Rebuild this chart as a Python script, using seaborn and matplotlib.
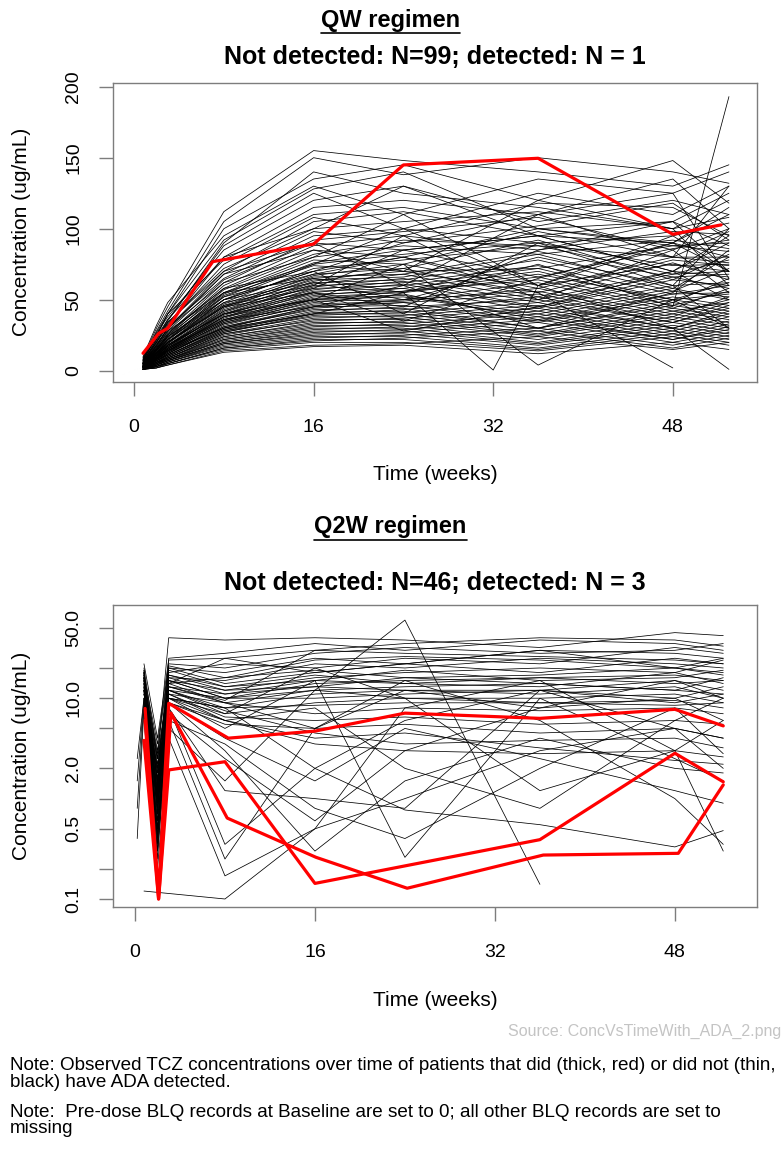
import numpy as np
import pandas as pd
import matplotlib
matplotlib.use("Agg")
import matplotlib.pyplot as plt
import seaborn as sns
from matplotlib.ticker import FixedLocator, FixedFormatter, NullLocator
from matplotlib.lines import Line2D

# ---------------- data: QW regimen (99 ADA-negative subjects, 1 ADA-positive) -------------
QW_WEEKS = [0.8, 2, 3, 8, 16, 24, 36, 48, 53]
qw_wk1 = [9, 8, 7, 10, 6, 8, 7, 5, 9, 6,
          4, 8, 5, 7, 3, 6, 4, 5, 6, 3,
          5, 4, 2, 6, 4, 3, 5, 2, 4, 3,
          5, 2, 4, 3, 2, 4, 3, 5, 2, 3,
          4, 2, 3, 4, 2, 3, 1, 3, 2, 4,
          2, 3, 1, 3, 2, 2, 3, 1, 2, 3,
          1, 2, 2, 1, 2, 1, 2, 1, 2, 1,
          1, 1, 2, 1, 1, 1, 1, 1, 1, 1,
          6, 5, 4, 3, 5, 4, 3, 2, 4, 3,
          2, 5, 3, 6, 4, 2, 7, 3, 5]
qw_wk2 = [30, 28, 25, 32, 22, 26, 24, 20, 27, 21,
          18, 23, 19, 20, 16, 18, 15, 17, 16, 14,
          15, 13, 12, 14, 13, 11, 12, 10, 12, 11,
          13, 9, 11, 10, 9, 12, 10, 11, 8, 10,
          9, 8, 9, 10, 8, 9, 7, 8, 7, 9,
          8, 8, 6, 7, 7, 6, 7, 5, 6, 7,
          5, 6, 5, 5, 6, 4, 5, 4, 5, 4,
          4, 3, 4, 3, 3, 3, 3, 2, 2, 2,
          20, 18, 14, 12, 16, 15, 10, 9, 13, 11,
          8, 17, 12, 22, 14, 8, 24, 10, 15]
qw_wk3 = [45, 42, 40, 48, 35, 38, 36, 32, 40, 33,
          30, 34, 29, 31, 26, 28, 25, 27, 24, 22,
          23, 21, 20, 22, 20, 19, 20, 18, 19, 17,
          20, 16, 18, 17, 15, 18, 16, 17, 14, 15,
          15, 14, 14, 16, 13, 14, 12, 13, 12, 14,
          12, 13, 11, 12, 11, 10, 11, 10, 10, 11,
          9, 9, 9, 8, 9, 8, 8, 7, 8, 7,
          7, 6, 7, 6, 6, 5, 5, 5, 4, 4,
          34, 30, 24, 22, 28, 25, 18, 16, 22, 20,
          15, 30, 20, 36, 24, 14, 40, 18, 26]
qw_wk8 = [112, 105, 100, 95, 90, 85, 88, 80, 78, 75,
          70, 72, 68, 65, 62, 64, 60, 58, 57, 55,
          54, 52, 50, 53, 48, 50, 47, 45, 46, 44,
          45, 42, 43, 41, 40, 42, 39, 40, 38, 37,
          38, 36, 35, 36, 34, 35, 33, 34, 32, 33,
          31, 30, 30, 31, 29, 28, 29, 27, 27, 28,
          26, 25, 26, 24, 24, 23, 22, 22, 21, 20,
          20, 19, 19, 18, 17, 16, 16, 15, 14, 13,
          70, 62, 50, 48, 55, 55, 40, 38, 50, 46,
          36, 68, 45, 80, 52, 30, 92, 40, 58]
qw_wk16 = [155, 150, 135, 130, 140, 120, 125, 115, 110, 108,
           105, 100, 98, 95, 92, 90, 88, 85, 82, 80,
           78, 76, 75, 74, 72, 70, 68, 67, 66, 65,
           64, 63, 62, 61, 60, 59, 58, 57, 56, 55,
           54, 53, 52, 51, 50, 50, 49, 48, 47, 46,
           45, 45, 44, 43, 42, 41, 40, 40, 39, 38,
           37, 36, 35, 34, 33, 32, 31, 30, 29, 28,
           27, 26, 25, 24, 23, 22, 21, 20, 18, 17,
           90, 80, 70, 60, 65, 75, 55, 50, 62, 58,
           45, 85, 55, 100, 68, 40, 128, 50, 70]
qw_wk24 = [148, 138, 145, 110, 125, 130, 100, 120, 115, 95,
           112, 105, 90, 100, 98, 85, 95, 80, 92, 88,
           75, 85, 82, 70, 78, 80, 72, 75, 68, 70,
           66, 72, 64, 68, 62, 65, 60, 63, 58, 61,
           56, 58, 55, 53, 56, 52, 50, 54, 49, 48,
           50, 46, 48, 44, 45, 42, 43, 40, 41, 38,
           39, 36, 37, 34, 35, 32, 33, 30, 31, 28,
           29, 26, 27, 24, 25, 22, 23, 20, 19, 18,
           60, 110, 40, 95, 55, 100, 45, 75, 50, 85,
           60, 70, 35, 130, 80, 55, 140, 28, 90]
qw_wk36 = [140, 150, 120, 135, 115, 105, 125, 110, 100, 118,
           95, 112, 102, 90, 108, 95, 85, 100, 88, 82,
           98, 66, 90, 72, 88, 60, 92, 58, 84, 55,
           82, 52, 78, 50, 74, 48, 72, 45, 70, 44,
           68, 42, 66, 40, 64, 38, 62, 36, 58, 35,
           56, 34, 54, 30, 50, 30, 52, 28, 48, 26,
           46, 25, 44, 24, 42, 22, 40, 20, 38, 19,
           36, 18, 34, 16, 30, 15, 28, 14, 24, 12,
           110, 60, 90, 50, 60, 60, 85, 4, 75, 95,
           30, 120, 65, 95, 55, 80, 100, 45, 110]
qw_wk48 = [130, 140, 148, 125, 100, 120, 110, 135, 105, 115,
           90, 100, 118, 95, 85, 105, 98, 88, 80, 92,
           80, 86, 74, 88, 68, 90, 64, 80, 66, 78,
           58, 76, 56, 70, 54, 68, 50, 66, 48, 64,
           50, 60, 46, 58, 44, 56, 42, 54, 40, 52,
           38, 50, 36, 48, 34, 46, 34, 44, 30, 42,
           30, 40, 28, 38, 26, 36, 24, 34, 22, 32,
           22, 30, 20, 28, 18, 26, 16, 24, 15, 20,
           80, 95, 60, 85, 75, 30, 105, 50, 45, 70,
           55, 100, 90, 70, 2, 60, 90, 70, 125]
qw_wk53 = [145, 132, 118, 140, 120, 110, 130, 100, 125, 95,
           115, 108, 92, 104, 100, 88, 96, 90, 98, 86,
           80, 92, 75, 84, 78, 70, 82, 76, 68, 74,
           80, 64, 72, 66, 60, 70, 62, 58, 65, 60,
           54, 62, 56, 50, 58, 52, 48, 55, 50, 46,
           52, 44, 48, 42, 46, 40, 44, 38, 42, 36,
           40, 34, 38, 32, 35, 30, 33, 28, 31, 26,
           29, 24, 27, 22, 25, 20, 23, 18, 20, 15,
           130, 70, 100, 55, 70, 1, 70, 30, 193, 50,
           85, 60, 110, 90, None, 30, 80, 95, 65]
# sparse extra visit
qw_extra_subject = [85]
qw_extra_week = [32]
qw_extra_conc = [0.5]
# ADA detected subject
qw_ada_week = [0.8, 2.2, 3.0, 7.0, 16.0, 24.0, 36.0, 48.0, 52.3]
qw_ada_conc = [12.3, 26.3, 29.9, 76.8, 89.2, 144.9, 149.6, 96.1, 102.7]

# ---------------- data: Q2W regimen (46 ADA-negative, 3 ADA-positive) -------------
Q2W_WEEKS = [0.8, 2, 3, 8, 16, 24, 36, 48, 52.3]
q2w_wk1 = [20, 18, 17, 16, 19, 15, 18, 14, 17, 16,
           12, 15, 13, 18, 11, 16, 14, 12, 17, 15,
           13, 10, 18, 14, 16, 12, 19, 11, 22, 16,
           8, 10, 9, 12, 7, 6, 0.12, 14, 9, 11,
           13, 10, 12, 8, 15, 16]
q2w_wk2 = [2.5, 1.5, 1.0, 3.0, 0.8, 2.0, 0.5, 1.2, 0.4, 2.2,
           0.6, 1.8, 0.3, 1.0, 2.5, 0.7, 1.5, 0.25, 3.5, 1.1,
           0.9, 0.5, 1.3, 2.8, 0.35, 1.6, 0.7, 2.0, 4.0, 1.4,
           0.4, 0.6, 0.5, 1.0, 0.3, 0.2, None, 1.0, 0.8, 2.0,
           1.2, 0.9, 1.8, 0.45, 2.5, 1.5]
q2w_wk3 = [40, 25, 22, 20, 18, 16, 20, 15, 14, 13,
           12, 19, 11, 17, 10, 15, 12, 10, 21, 14,
           11, 9, 16, 13, 12, 10, 17, 9, 24, 15,
           6, 8, 7, 10, 5, 4, None, 12, 8, 9,
           11, 9, 10, 6, 13, 14]
q2w_wk8 = [38, 28, 20, 18, 22, 15, 14, 12, 16, 11,
           10, 13, 9, 12, 8, 10, 7, 8, 16, 9,
           6.5, 5.5, 11, 9.5, 7.5, 6, 13, 6, 25, 10,
           0.25, 0.35, 2.5, 5, 1.5, 0.17, 0.10, 8, 1.2, 3,
           6, 4, 7, 3.5, 9, 25]
q2w_wk16 = [40, 35, 28, 25, 20, 22, 18, 16, 19, 15,
            14, 17, 12, 13, 11, 10, 9, 8.5, 24, 7,
            6, 5, 13, 30, 4.5, 3.5, 15, 4, 30, 12,
            5, 2, 0.6, 15, 12, 0.5, 0.5, 2, 1.0, 0.3,
            8, 1.5, 20, 0.8, 5, 18]
q2w_wk24 = [38, 30, 32, 22, 25, 20, 22, 18, 16, 19,
            15, 14, 13, 12, 12, 11, 10, 9, 26, 8,
            6.5, 5.5, 16, 28, 3.5, 3.0, 14, 4.5, 35, 10,
            12, 6, 3, 0.26, 60, 8, 1.0, 0.77, 0.8, 1.5,
            2, 5, 10, 0.4, 15, 22]
q2w_wk36 = [32, 38, 28, 30, 22, 25, 18, 20, 17, 15,
            16, 13, 14, 12, 11, 12, 10, 9, 24, 7.5,
            5.5, 4.5, 14, 26, 3.8, 2.8, 16, 3.2, 40, 9,
            8, 12, 8, 10, 0.14, 15, 3, 0.55, 12, 4,
            0.8, 2.5, 1.2, 2, 6, 30]
q2w_wk48 = [45, 35, 30, 28, 32, 22, 25, 18, 20, 16,
            14, 18, 12, 15, 13, 10, 11, 9.5, 20, 8,
            6, 5, 12, 24, 4.0, 3.0, 17, 2.4, 38, 8.5,
            10, 9, 15, 2.5, None, 3, 5, 0.33, 5, 2.0,
            6, 1.2, 3, 8, 1.0, 20]
q2w_wk52 = [42, 30, 35, 25, 28, 20, 22, 24, 18, 19,
            15, 14, 16, 12, 10, 13, 9, 8, 17, 7,
            5.5, 4, 11, 22, 3.2, 2.6, 15, 2.2, 33, 9,
            6, 11, 10, 1.5, None, 0.3, 4, 0.48, 2, 1.8,
            10, 0.9, 6, 2.8, 0.35, 25]
q2w_extra_subject = [31, 32, 39, 42]
q2w_extra_week = [0.2, 0.2, 0.2, 0.2]
q2w_extra_conc = [0.4, 1.5, 0.8, 2.5]
# ADA detected subjects
q2w_ada1_week = [0.9, 2.1, 3.0, 8.3, 16.0, 24.0, 36.0, 48.0, 52.3]
q2w_ada1_conc = [7.9, 0.11, 8.9, 4.0, 4.7, 7.1, 6.3, 7.75, 5.3]
q2w_ada2_week = [0.8, 2.1, 3.0, 8.0, 16.0, 36.0, 48.0, 52.3]
q2w_ada2_conc = [3.8, 0.10, 1.93, 2.33, 0.143, 0.39, 2.83, 1.47]
q2w_ada3_week = [0.9, 2.1, 3.2, 8.2, 16.1, 24.2, 36.3, 48.3, 52.3]
q2w_ada3_conc = [6.0, 0.10, 7.1, 0.64, 0.26, 0.128, 0.274, 0.285, 1.37]

QW_TITLE = "Not detected: N=99; detected: N = 1"
Q2W_TITLE = "Not detected: N=46; detected: N = 3"
NOTE1 = ("Note: Observed TCZ concentrations over time of patients that did (thick, red) or did not (thin,\n"
         "black) have ADA detected.")
NOTE2 = "Note:  Pre-dose BLQ records at Baseline are set to 0; all other BLQ records are set to\nmissing"
SOURCE = "Source: ConcVsTimeWith_ADA_2.png"


def long_frame(weeks, cols, ex_s, ex_w, ex_c):
    rows = []
    for wk, col in zip(weeks, cols):
        for s, v in enumerate(col, start=1):
            if v is not None:
                rows.append((s, wk, v))
    for s, w, c in zip(ex_s, ex_w, ex_c):
        rows.append((s, w, c))
    return pd.DataFrame(rows, columns=["subject", "week", "conc"])


def red_frame(pairs):
    rows = []
    for i, (ws, cs) in enumerate(pairs):
        for w, c in zip(ws, cs):
            rows.append((i, w, c))
    return pd.DataFrame(rows, columns=["subject", "week", "conc"])


qw_df = long_frame(QW_WEEKS, [qw_wk1, qw_wk2, qw_wk3, qw_wk8, qw_wk16, qw_wk24,
                              qw_wk36, qw_wk48, qw_wk53],
                   qw_extra_subject, qw_extra_week, qw_extra_conc)
qw_red = red_frame([(qw_ada_week, qw_ada_conc)])
q2w_df = long_frame(Q2W_WEEKS, [q2w_wk1, q2w_wk2, q2w_wk3, q2w_wk8, q2w_wk16, q2w_wk24,
                                q2w_wk36, q2w_wk48, q2w_wk52],
                    q2w_extra_subject, q2w_extra_week, q2w_extra_conc)
q2w_red = red_frame([(q2w_ada1_week, q2w_ada1_conc), (q2w_ada2_week, q2w_ada2_conc),
                     (q2w_ada3_week, q2w_ada3_conc)])

# ---------------- plotting -------------
sns.set_theme(style="white")
plt.rcParams["font.family"] = ["Liberation Sans", "DejaVu Sans"]
plt.rcParams["text.color"] = "black"
plt.rcParams["axes.labelcolor"] = "black"

W, H = 781, 1149
fig = plt.figure(figsize=(W / 100, H / 100), dpi=100)


def px_axes(left, top, right, bottom):
    return fig.add_axes([left / W, 1 - bottom / H, (right - left) / W, (bottom - top) / H])


ax1 = px_axes(112.7, 82.7, 757, 381.7)
ax2 = px_axes(112.7, 605, 757, 906.7)

frame_col = "#7d7d7d"
for ax, df, red in [(ax1, qw_df, qw_red), (ax2, q2w_df, q2w_red)]:
    sns.lineplot(data=df, x="week", y="conc", units="subject", estimator=None,
                 color="black", lw=0.55, ax=ax, legend=False)
    sns.lineplot(data=red, x="week", y="conc", units="subject", estimator=None,
                 color="#ff0000", lw=2.3, ax=ax, legend=False)
    for sp in ax.spines.values():
        sp.set_visible(True)
        sp.set_color(frame_col)
        sp.set_linewidth(1.0)
    ax.set_xticks([0, 16, 32, 48])
    ax.tick_params(axis="both", direction="out", length=10, width=1.0, color=frame_col,
                   labelsize=14, labelcolor="black", left=True, bottom=True)
    ax.tick_params(axis="x", pad=17)
    ax.tick_params(axis="y", pad=12, labelrotation=90)
    ax.set_xlabel("Time (weeks)", fontsize=15, color="black")
    ax.set_ylabel("Concentration (ug/mL)", fontsize=15, color="black")
    ax.grid(False)
    ax.set_facecolor("white")

ax1.set_xlim(-1.9, 55.5)
ax1.set_ylim(-7.7, 202.8)
ax1.set_yticks([0, 50, 100, 150, 200])

ax2.set_yscale("log")
ax2.set_xlim(-1.98, 55.3)
ax2.set_ylim(0.0838, 84.8)
ax2.yaxis.set_major_locator(FixedLocator([0.1, 0.2, 0.5, 1, 2, 5, 10, 20, 50]))
ax2.yaxis.set_major_formatter(FixedFormatter(["0.1", "", "0.5", "", "2.0", "", "10.0", "", "50.0"]))
ax2.yaxis.set_minor_locator(NullLocator())

for ax, hpx in [(ax1, 299.0), (ax2, 301.7)]:
    for lab in ax.get_yticklabels():
        lab.set_va("center")
    ax.xaxis.set_label_coords(0.5, -93.3 / hpx)
    ax.xaxis.label.set_va("center")
    ax.yaxis.set_label_coords(-91.0 / 644.3, 0.5)
    ax.yaxis.label.set_va("center")

ax1.text(0.5, 1 + (82.7 - 57) / 299.0, QW_TITLE, transform=ax1.transAxes,
         ha="center", va="center", fontsize=18, fontweight="bold", color="black")
ax2.text(0.5, 1 + (605 - 583) / 301.7, Q2W_TITLE, transform=ax2.transAxes,
         ha="center", va="center", fontsize=18, fontweight="bold", color="black")

heads = [fig.text(0.5, 1 - 20 / H, "QW regimen", ha="center", va="center",
                  fontsize=17, fontweight="bold", color="black"),
         fig.text(0.5, 1 - 526.7 / H, "Q2W regimen", ha="center", va="center",
                  fontsize=17, fontweight="bold", color="black")]

fig.text(508 / W, 1 - 1031 / H, SOURCE, ha="left", va="center", fontsize=11.5, color="#c4c4c4")
fig.text(10 / W, 1 - 1074 / H, NOTE1, ha="left", va="center", fontsize=13.6,
         linespacing=0.98, color="black")
fig.text(10 / W, 1 - 1120.5 / H, NOTE2, ha="left", va="center", fontsize=13.6,
         linespacing=0.98, color="black")

fig.canvas.draw()
rend = fig.canvas.get_renderer()
for t in heads:
    bb = t.get_window_extent(rend)
    y = bb.y0 - 1.5
    fig.add_artist(Line2D([bb.x0 / W, bb.x1 / W], [y / H, y / H], color="black",
                          lw=1.2, transform=fig.transFigure))

fig.savefig("out.png", dpi=100, facecolor="white")
